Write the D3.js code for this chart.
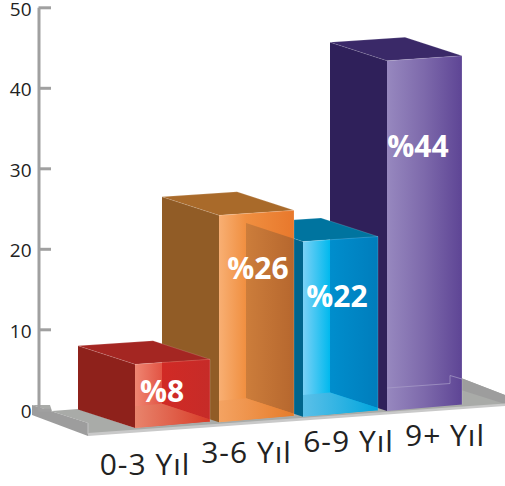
<!DOCTYPE html>
<html>
<head>
<meta charset="utf-8">
<script src="https://cdn.jsdelivr.net/npm/d3@7"></script>
<style>
  html, body { margin: 0; padding: 0; background: #fff; }
  svg { display: block; }
  text { font-family: "Open Sans", sans-serif; }
</style>
</head>
<body>
<svg id="chart" width="505" height="486"></svg>
<script>
// Chart data
const categories = ["0-3 Yıl", "3-6 Yıl", "6-9 Yıl", "9+ Yıl"];
const shares = [8, 26, 22, 44];
const axisTicks = [0, 10, 20, 30, 40, 50];

// Colours per bar
const leftColors = ["#8e211b", "#915c26", "#00658c", "#2f205a"];
const topColors = ["#a42622", "#a96a2a", "#00749f", "#3a2968"];
const frontStops = [
  ["#ef8672", "#e25444", "#d63a30"],
  ["#f8af73", "#f08f40", "#e8782c"],
  ["#7ad1f6", "#00b9ee", "#00a8e0"],
  ["#9788bf", "#7d69ab", "#5e4595"]
];
const shadeStops = [
  ["#d12a25", "#c62b28"],
  ["#cc7d3b", "#b6672e"],
  ["#008ecd", "#007dbc"],
  null
];
const floorStops = [
  ["#e8846c", "#d83c28"],
  ["#f4a362", "#e67c2a"],
  ["#5cc0e8", "#00a5dd"],
  null
];

// Layout of the oblique projection
const frontWidth = 75;
const depth = { dx: -57, dy: -18.5 };
const topRise = -5;
const bottomRise = -6.5;
const valueLabelPos = [[27, 38], [39, 64], [34, 65], [31, 96]];
const catLabelPos = [[145, 475], [246.5, 463], [348.5, 451.5], [445, 446]];

const svg = d3.select("#chart");
const defs = svg.append("defs");

const yAxisScale = d3.scaleLinear().domain([0, 50]).range([409.8, 7.3]);
const heightScale = d3.scaleLinear().domain([0, 50]).range([0, 398]);
const xScale = d3.scalePoint().domain(categories).range([135, 387]);
const baseScale = d3.scaleLinear().domain([135, 387]).range([428, 411]);

const poly = pts => pts.map(p => p.join(",")).join(" ");

function gradient(id, x1, x2, stops) {
  const g = defs.append("linearGradient")
    .attr("id", id)
    .attr("gradientUnits", "userSpaceOnUse")
    .attr("x1", x1).attr("x2", x2).attr("y1", 0).attr("y2", 0);
  stops.forEach(([o, c]) => g.append("stop").attr("offset", o).attr("stop-color", c));
}

// Geometry of one box, derived from its category and value
const boxes = categories.map((c, i) => {
  const fx = xScale(c);
  const by = baseScale(fx);
  const h = heightScale(shares[i]);
  const fl = [fx, by - h];
  const fr = [fx + frontWidth, by - h + topRise];
  const bl = [fx, by];
  const br = [fx + frontWidth, by + bottomRise];
  const back = p => [p[0] + depth.dx, p[1] + depth.dy];
  return { i, fx, by, fl, fr, bl, br, bfl: back(fl), bfr: back(fr), bbl: back(bl) };
});

// Floor tray
const floor = svg.append("g");
floor.append("polygon").attr("fill", "#a9aba8")
  .attr("points", poly([[32, 405], [50, 405], [52, 411], [78, 409], [135, 428], [387, 385], [461, 378], [505, 395], [505, 405], [88, 434], [88, 423]]));
floor.append("polygon").attr("fill", "#9d9d9d")
  .attr("points", poly([[32, 405], [88, 423], [88, 436], [32, 415]]));
floor.append("polygon").attr("fill", "#9d9d9d")
  .attr("points", poly([[461, 378], [505, 395], [505, 404], [461, 390]]));
floor.append("polygon").attr("fill", "#c9c9c9")
  .attr("points", poly([[88, 433], [505, 403.5], [505, 406], [88, 436]]));
floor.append("polyline").attr("fill", "none").attr("stroke", "#c4c4c4").attr("stroke-width", 1)
  .attr("points", poly([[88, 423], [88, 434]]));

// Vertical axis
const axis = svg.append("g").attr("transform", "translate(38.5,0)")
  .call(d3.axisLeft(yAxisScale).tickValues(axisTicks).tickSizeInner(-12.5).tickSizeOuter(0).tickPadding(7));
axis.selectAll("path, line").attr("stroke", "#a0a0a0").attr("stroke-width", 3);
axis.selectAll("text").attr("font-size", 19).attr("fill", "#222").attr("dy", "0.41em")
  .style("font-family", '"Open Sans", sans-serif');

// Boxes, back to front
const barsG = svg.append("g");
boxes.slice().reverse().forEach(b => {
  const g = barsG.append("g");
  const i = b.i;
  const next = boxes[i + 1];

  g.append("polygon").attr("fill", leftColors[i])
    .attr("points", poly([b.bfl, b.fl, b.bl, b.bbl]));

  g.append("polygon").attr("fill", topColors[i])
    .attr("points", poly([b.bfl, b.bfr, b.fr, b.fl]));

  gradient(`front${i}`, b.fx, b.fx + frontWidth, [
    [0, frontStops[i][0]],
    [i === 3 ? 0.5 : 0.36, frontStops[i][1]],
    [1, frontStops[i][2]]
  ]);
  const frontPts = [b.fl, b.fr, b.br, b.bl];
  g.append("polygon").attr("fill", `url(#front${i})`).attr("points", poly(frontPts));

  if (next) {
    // The neighbouring box's side and floor show through this front face
    defs.append("clipPath").attr("id", `clip${i}`)
      .append("polygon").attr("points", poly(frontPts));
    gradient(`shade${i}`, next.bfl[0], b.fx + frontWidth, [[0, shadeStops[i][0]], [1, shadeStops[i][1]]]);
    gradient(`floor${i}`, b.fx, b.fx + frontWidth, [[0, floorStops[i][0]], [1, floorStops[i][1]]]);
    const clipped = g.append("g").attr("clip-path", `url(#clip${i})`);
    clipped.append("polygon").attr("fill", `url(#shade${i})`)
      .attr("points", poly([next.bfl, next.fl, next.bl, next.bbl]));
    clipped.append("polygon").attr("fill", `url(#floor${i})`)
      .attr("points", poly([b.bl, [b.fx, next.bbl[1] + 2.5], next.bbl, next.bl, b.br]));
  } else {
    g.append("polyline").attr("fill", "none").attr("stroke", "#a99dc9").attr("stroke-width", 0.7)
      .attr("points", poly([[b.fx, b.by - 23], [b.fx + 63, b.by - 27.5], [b.fx + 63, b.by - 35.5], [b.fx + frontWidth, b.by - 32]]));
  }

  // Pale edges along the lid
  g.append("polyline").attr("fill", "none")
    .attr("stroke", "#fff").attr("stroke-opacity", 0.25).attr("stroke-width", 0.6)
    .attr("points", poly([b.fl, b.bfl, b.bfr, b.fr, b.fl]));
  g.append("line").attr("stroke", "#fff").attr("stroke-opacity", 0.25).attr("stroke-width", 0.7)
    .attr("x1", b.fr[0]).attr("y1", b.fr[1]).attr("x2", b.br[0]).attr("y2", b.br[1]);
});

// Value labels on the front faces
svg.append("g").selectAll("text").data(boxes).join("text")
  .attr("x", b => b.fx + valueLabelPos[b.i][0])
  .attr("y", b => b.fl[1] + valueLabelPos[b.i][1])
  .attr("text-anchor", "middle")
  .attr("font-size", 30).attr("font-weight", 700).attr("fill", "#fff")
  .text(b => `%${shares[b.i]}`);

// Category labels below the tray
svg.append("g").selectAll("text").data(categories).join("text")
  .attr("x", (d, i) => catLabelPos[i][0])
  .attr("y", (d, i) => catLabelPos[i][1])
  .attr("text-anchor", "middle")
  .attr("font-size", 30).attr("letter-spacing", 1).attr("fill", "#222")
  .text(d => d);
</script>
</body>
</html>
